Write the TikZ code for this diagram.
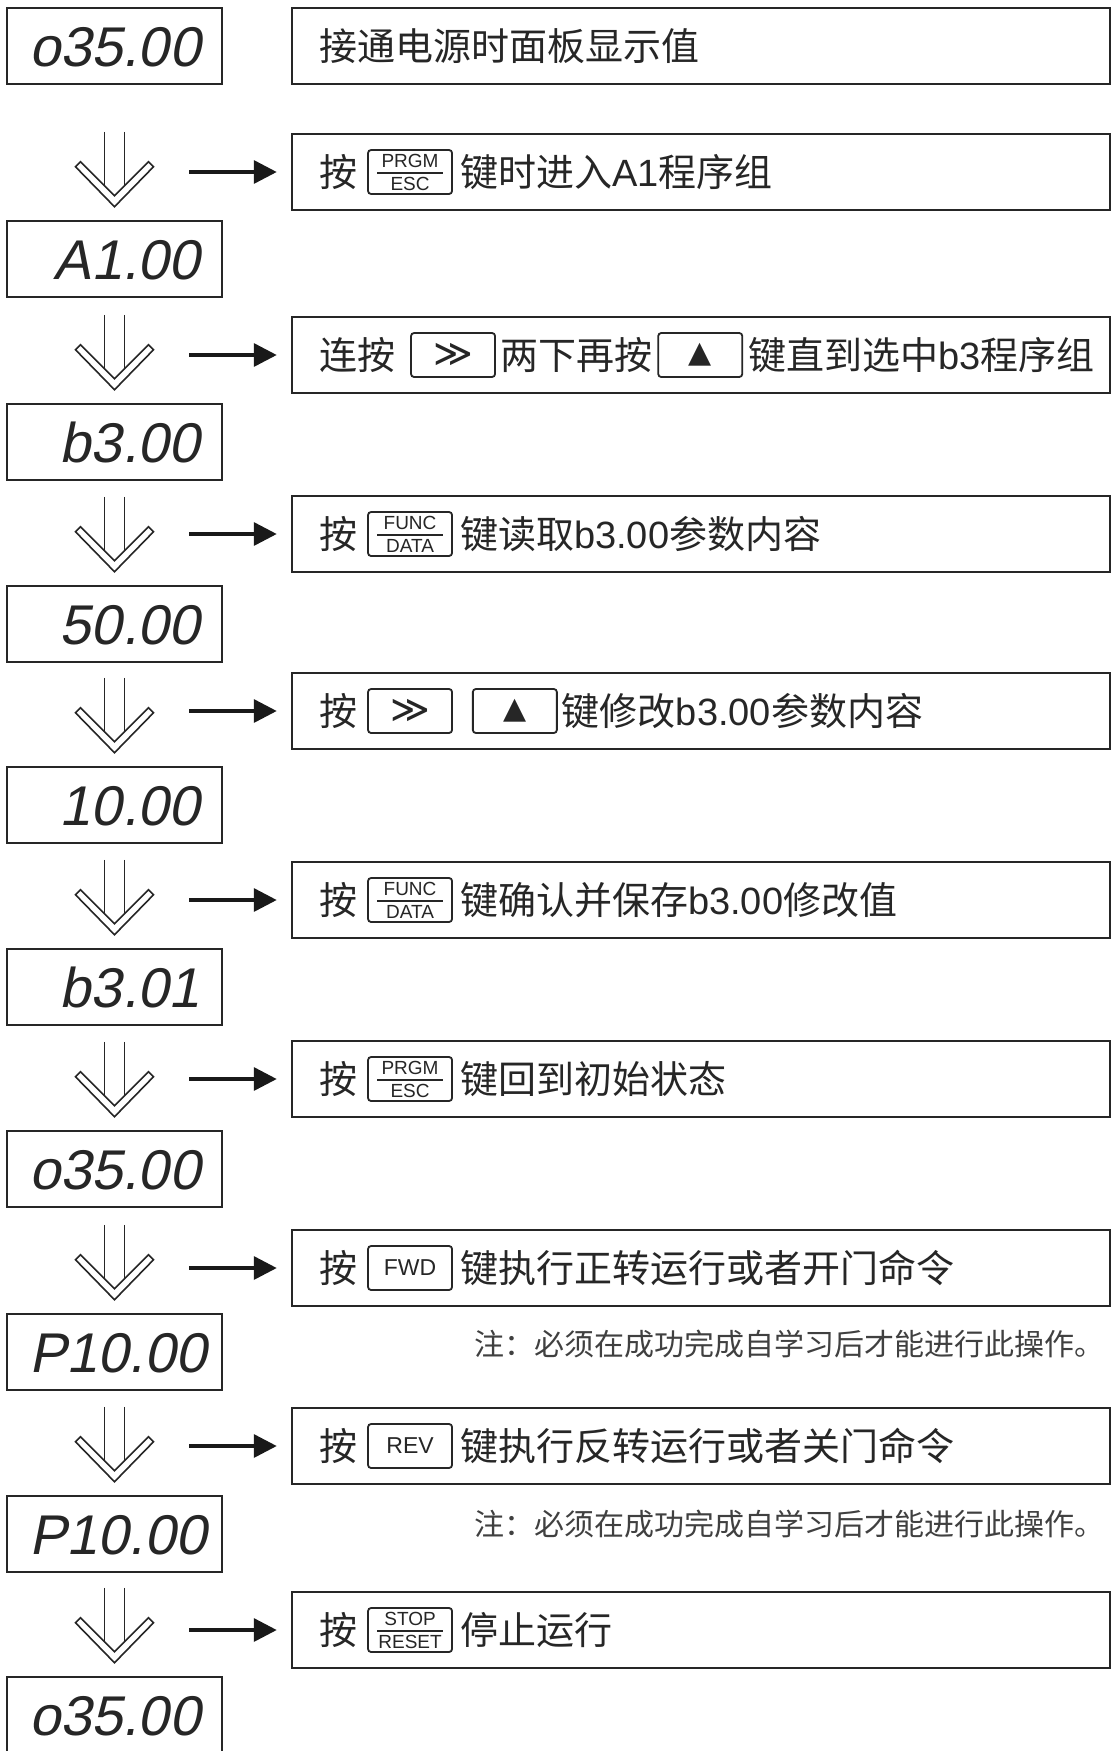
\documentclass[tikz,border=0pt]{standalone}
\usepackage{fontspec}
\setmainfont{Liberation Sans}
\newfontfamily\cjk{Noto Sans CJK SC}
\newfontfamily\lcd[FakeSlant=0.2]{Liberation Sans}
\newfontfamily\symf{DejaVu Sans}
\usepackage{tikz}
\usetikzlibrary{positioning,arrows.meta,calc}

\newcommand{\lat}[1]{{\rmfamily #1}}
\newcommand{\twokey}[2]{\vbox{\offinterlineskip\halign{\hbox to 66pt{\hfil##\hfil}\cr
	\rule[-5pt]{0pt}{19pt}#1\cr\noalign{\hrule height 1.5pt}\rule{0pt}{17pt}#2\cr}}}

\begin{document}
\begin{tikzpicture}[x=1pt,y=-1pt,
	disp/.style={draw=black!85,line width=2.5pt,minimum width=215pt,minimum height=76pt,
		inner xsep=22pt,inner ysep=0pt,text width=171pt,align=right,
		text height=40pt,text depth=0pt,font=\lcd\fontsize{56}{56}\selectfont,text=black!85},
	tbox/.style={draw=black!85,line width=2.5pt,minimum width=818pt,minimum height=76pt,inner sep=0pt},
	txt/.style={anchor=west,inner sep=0pt,text height=33pt,text depth=5pt,
		font=\cjk\fontsize{38}{38}\selectfont,text=black!85},
	key/.style={draw=black!85,line width=1.8pt,rounded corners=3pt,minimum width=84pt,
		minimum height=44pt,inner sep=0pt,font=\rmfamily\fontsize{19}{19}\selectfont,text=black!85},
	note/.style={anchor=west,inner sep=0pt,font=\cjk\fontsize{30}{30}\selectfont,text=black!75},
	rarrow/.style={draw=black!90,line width=3.5pt,-{Triangle[length=23pt,width=23pt]},shorten >=14pt},
	hollowdown/.pic={
		\draw[black!85,line width=1.6pt,line join=miter] (-39,-40) -- (0,0) -- (39,-40) -- (34,-45) -- (0,-11) -- (-34,-45) -- cycle;
		\draw[black!85,line width=1.6pt] (-10,-75) -- (-10,-21) (10,-75) -- (10,-21);
	}
	]
	\path[use as bounding box,fill=white] (0,0) rectangle (1112,1751);
	
	%displays
	\foreach \i/\y/\v in {1/46/o35.00,2/259/A1.00,3/442/b3.00,4/624/50.00,5/805/10.00,
		6/987/b3.01,7/1169/o35.00,8/1352/P10.00,9/1534/P10.00,10/1715/o35.00}
		\node[disp] (d\i) at (114.5,\y) {\v};
	\foreach \i in {2,...,10}
		\pic at ([yshift=13pt]d\i.north) {hollowdown};
	
	%steps
	\foreach \i/\y in {1/46,2/172,3/355,4/534,5/711,6/900,7/1079,8/1268,9/1446,10/1630}{
		\node[tbox] (t\i) at (701,\y) {};
		\coordinate (s\i) at (189,\y);
	}
	\foreach \i in {2,...,10}
		\draw[rarrow] (s\i) -- (t\i.west);
	
	\node[txt] (p1) at ([xshift=29pt]t1.west) {接通电源时面板显示值};
	
	\node[txt] (p2) at ([xshift=29pt]t2.west) {按};
	\node[key,right=9pt of p2] (k2) {\twokey{PRGM}{ESC}};
	\node[txt,right=7pt of k2] (q2) {键时进入\lat{A1}程序组};
	
	\node[txt] (p3) at ([xshift=29pt]t3.west) {连按};
	\node[key,right=14pt of p3] (k3) {\symf\fontsize{38}{38}\selectfont ≫};
	\node[txt,right=4pt of k3] (q3) {两下再按};
	\node[key,right=5pt of q3] (m3) {\symf\fontsize{30}{30}\selectfont ▲};
	\node[txt,right=5pt of m3] (r3) {键直到选中\lat{b3}程序组};
	
	\node[txt] (p4) at ([xshift=29pt]t4.west) {按};
	\node[key,right=9pt of p4] (k4) {\twokey{FUNC}{DATA}};
	\node[txt,right=7pt of k4] (q4) {键读取\lat{b3.00}参数内容};
	
	\node[txt] (p5) at ([xshift=29pt]t5.west) {按};
	\node[key,right=9pt of p5] (k5) {\symf\fontsize{38}{38}\selectfont ≫};
	\node[key,right=19pt of k5] (m5) {\symf\fontsize{30}{30}\selectfont ▲};
	\node[txt,right=4pt of m5] (q5) {键修改\lat{b3.00}参数内容};
	
	\node[txt] (p6) at ([xshift=29pt]t6.west) {按};
	\node[key,right=9pt of p6] (k6) {\twokey{FUNC}{DATA}};
	\node[txt,right=7pt of k6] (q6) {键确认并保存\lat{b3.00}修改值};
	
	\node[txt] (p7) at ([xshift=29pt]t7.west) {按};
	\node[key,right=9pt of p7] (k7) {\twokey{PRGM}{ESC}};
	\node[txt,right=7pt of k7] (q7) {键回到初始状态};
	
	\node[txt] (p8) at ([xshift=29pt]t8.west) {按};
	\node[key,right=9pt of p8] (k8) {\fontsize{23}{23}\selectfont FWD};
	\node[txt,right=7pt of k8] (q8) {键执行正转运行或者开门命令};
	
	\node[txt] (p9) at ([xshift=29pt]t9.west) {按};
	\node[key,right=9pt of p9] (k9) {\fontsize{23}{23}\selectfont REV};
	\node[txt,right=7pt of k9] (q9) {键执行反转运行或者关门命令};
	
	\node[txt] (p10) at ([xshift=29pt]t10.west) {按};
	\node[key,right=9pt of p10] (k10) {\twokey{STOP}{RESET}};
	\node[txt,right=7pt of k10] (q10) {停止运行};
	
	%notes
	\node[note] (n8) at (474,1344) {注：必须在成功完成自学习后才能进行此操作。};
	\node[note] (n9) at (474,1524) {注：必须在成功完成自学习后才能进行此操作。};
\end{tikzpicture}
\end{document}
